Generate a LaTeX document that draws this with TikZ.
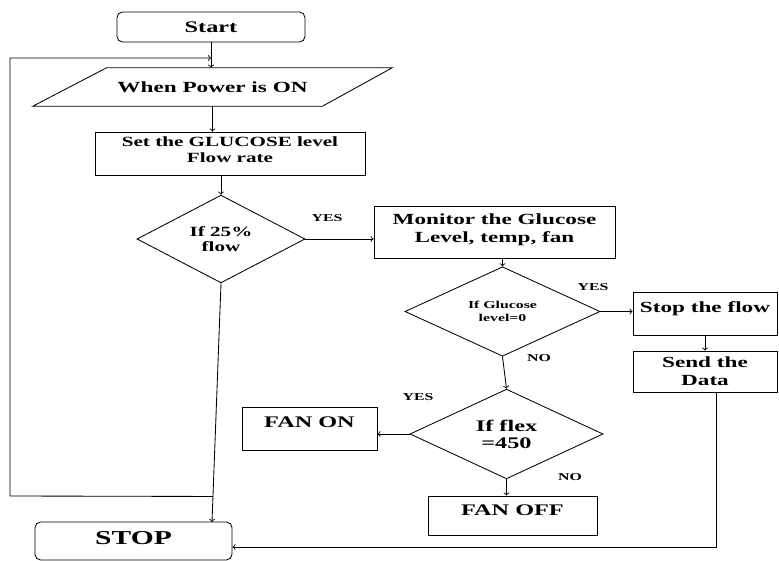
\documentclass[tikz,border=0pt]{standalone}
\usepackage{fontspec}
\setmainfont[FakeStretch=1.5]{Liberation Serif}
\usetikzlibrary{calc}
\usetikzlibrary{shapes.geometric}

\tikzset{
    procbox/.style={draw,rectangle,align=center,inner sep=1pt,line width=0.6pt},
    termbox/.style={draw,rectangle,rounded corners=4pt,align=center,inner sep=1pt,line width=0.6pt},
    iobox/.style={rectangle,align=center,inner sep=1pt},
    decision/.style={draw,diamond,align=center,inner sep=0pt,line width=0.6pt},
    lbl/.style={font=\fontsize{7.5}{9}\selectfont\bfseries,inner sep=0pt},
    flow/.style={->,line width=0.6pt}
}

\begin{document}
\begin{tikzpicture}[x=0.025cm,y=-0.025cm]
        \useasboundingbox (0,0) rectangle (779,561);

        % left column
        \node[termbox,minimum width=4.7cm,minimum height=0.75cm,font=\fontsize{11.5}{13}\selectfont\bfseries] (start) at (211,27) {Start};
        \node[iobox,minimum width=8.975cm,minimum height=0.95cm,font=\fontsize{11}{13}\selectfont\bfseries] (power) at (212.5,87) {When Power is ON};
        \draw[line width=0.6pt] (power.south west) -- ([xshift=1.85cm]power.north west)
            -- (power.north east) -- ([xshift=-1.75cm]power.south east) -- cycle;
        \node[procbox,minimum width=6.75cm,minimum height=1.075cm,text depth=5pt,font=\fontsize{10}{11.4}\selectfont\bfseries] (setlvl) at (230,153.5) {Set the GLUCOSE level\\Flow rate};
        \node[decision,minimum width=4.2cm,minimum height=1.95cm,font=\fontsize{10}{10.7}\selectfont\bfseries] (d1) at (221,239) {If 25\%\\flow};
        \node[termbox,minimum width=4.925cm,minimum height=0.95cm,text depth=5pt,font=\fontsize{14}{16}\selectfont\bfseries] (stop) at (133.5,541) {STOP};

        % middle column
        \node[procbox,minimum width=6.025cm,minimum height=1.3cm,text depth=5pt,font=\fontsize{11}{12.8}\selectfont\bfseries] (monitor) at (494.5,232) {Monitor the Glucose\\Level, temp, fan};
        \node[decision,minimum width=4.875cm,minimum height=1.625cm,font=\fontsize{7.5}{9.2}\selectfont\bfseries] (d2) at (502.5,311.5) {If Glucose\\level=0};
        \node[decision,minimum width=4.825cm,minimum height=2.1cm,font=\fontsize{11.5}{12}\selectfont\bfseries] (d3) at (506.5,434) {If flex\\=450};
        \node[procbox,minimum width=3.375cm,minimum height=1.075cm,text depth=9pt,font=\fontsize{11.5}{13}\selectfont\bfseries] (fanon) at (309.5,428.5) {FAN ON};
        \node[procbox,minimum width=4.225cm,minimum height=0.975cm,text depth=8pt,font=\fontsize{11.5}{13}\selectfont\bfseries] (fanoff) at (512.5,515.5) {FAN OFF};

        % right column
        \node[procbox,minimum width=3.6cm,minimum height=1.075cm,text depth=9pt,font=\fontsize{11}{13}\selectfont\bfseries] (stopflow) at (705,313.5) {Stop the flow};
        \node[procbox,minimum width=3.6cm,minimum height=1.025cm,font=\fontsize{11}{12.8}\selectfont\bfseries] (send) at (705,371.5) {Send the\\Data};

        % connectors
        \coordinate (stopin) at (212,522);
        \coordinate (loopa) at ($(d1.south)!0.893!(stopin)$);
        \coordinate (loopl) at (10,496);
        \coordinate (loopt) at (10,58);

        \draw[flow] (start.south) -- (start.south |- power.north);
        \draw[flow] (loopa) -- (loopl) -- (loopt) -- (start.south |- loopt);
        \draw[flow] (power.south) -- (power.south |- setlvl.north);
        \draw[flow] (d1.north |- setlvl.south) -- (d1.north);
        \draw[flow] (d1.south) -- (stopin);
        \draw[flow] (d1.east) -- (d1.east -| monitor.west);
        \draw[flow] (d2.north |- monitor.south) -- (d2.north);
        \draw[flow] (d2.east) -- (d2.east -| stopflow.west);
        \draw[flow] (stopflow.south) -- (send.north);
        \draw[flow] (d2.south) -- (d3.north);
        \draw[flow] (d3.west) -- (d3.west -| fanon.east);
        \draw[flow] (d3.south) -- (d3.south |- fanoff.north);
        \draw[flow] ([xshift=0.275cm]send.south) |- ([yshift=-0.15cm]stop.east);

        % branch labels
        \node[lbl] (yes1) at (327,218) {YES};
        \node[lbl] (yes2) at (593,287) {YES};
        \node[lbl] (no2) at (539,358) {NO};
        \node[lbl] (yes3) at (418,397) {YES};
        \node[lbl] (no3) at (570,477) {NO};
    \end{tikzpicture}
\end{document}
